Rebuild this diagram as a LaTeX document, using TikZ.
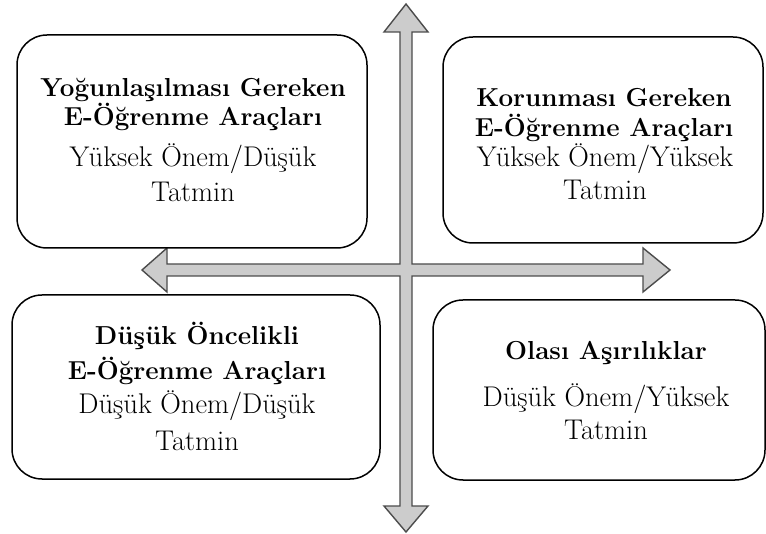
\documentclass[tikz,border=0pt]{standalone}
\tikzset{
  quad/.style={draw, line width=1.5pt, rounded corners=30pt, fill=white},
  hd/.style={font=\fontsize{26}{30}\selectfont\bfseries, anchor=base},
  txt/.style={font=\fontsize{28.5}{32}\selectfont, anchor=base}
}
\begin{document}
\begin{tikzpicture}[x=1pt,y=-1pt]
\useasboundingbox (0,0) rectangle (766,534);
\draw[line width=1.4pt, draw=black!70, fill=black!20]
  (400,32) -- (384,32) -- (406,4) -- (428,32) -- (412,32) -- (412,264)
  -- (643,264) -- (643,248) -- (670,270) -- (643,292) -- (643,276) -- (412,276)
  -- (412,506) -- (428,506) -- (406,532) -- (384,506) -- (400,506) -- (400,276)
  -- (167,276) -- (167,292) -- (142,270) -- (167,248) -- (167,264) -- (400,264) -- cycle;
\node[quad, minimum width=350, minimum height=213] (yog) at (192,141.5) {};
\node[quad, minimum width=320, minimum height=206] (kor) at (603,140) {};
\node[quad, minimum width=368, minimum height=184] (dus) at (196,387) {};
\node[quad, minimum width=332, minimum height=180] (ola) at (599,390) {};
\node[hd] (yog-a) at (193,97) {Yoğunlaşılması Gereken};
\node[hd] (yog-b) at (193,126) {E-Öğrenme Araçları};
\node[txt] (yog-c) at (193,167) {Yüksek Önem/Düşük};
\node[txt] (yog-d) at (193,202) {Tatmin};
\node[hd] (kor-a) at (604,107) {Korunması Gereken};
\node[hd] (kor-b) at (604,137) {E-Öğrenme Araçları};
\node[txt] (kor-c) at (605,167) {Yüksek Önem/Yüksek};
\node[txt] (kor-d) at (605,200) {Tatmin};
\node[hd] (dus-a) at (197,345) {Düşük Öncelikli};
\node[hd] (dus-b) at (197,380) {E-Öğrenme Araçları};
\node[txt] (dus-c) at (197,414) {Düşük Önem/Düşük};
\node[txt] (dus-d) at (197,450) {Tatmin};
\node[hd] (ola-a) at (606,360) {Olası Aşırılıklar};
\node[txt] (ola-b) at (606,407) {Düşük Önem/Yüksek};
\node[txt] (ola-c) at (606,440) {Tatmin};
\end{tikzpicture}
\end{document}
